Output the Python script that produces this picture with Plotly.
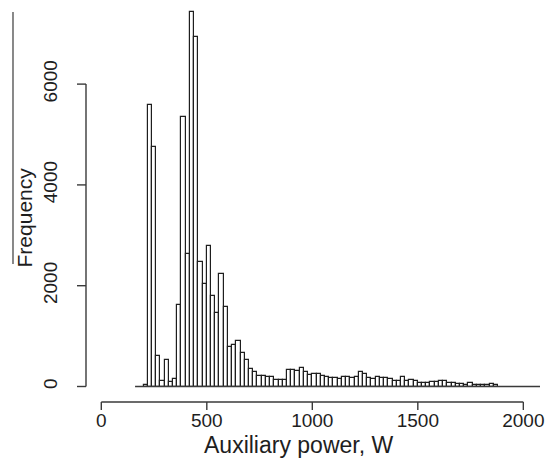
import plotly.graph_objects as go

# Histogram of auxiliary power (20 W bins starting at 200 W)
bin_start = 200
bin_width = 20
counts = [
    30, 5585, 4758, 615, 115, 526, 90, 140, 1617, 5353,
    2629, 7437, 6929, 2464, 2028, 2794, 1802, 1452, 2232, 1571,
    790, 823, 900, 671, 526, 341, 294, 208, 208, 182,
    182, 129, 129, 135, 327, 327, 300, 367, 294, 228,
    248, 248, 208, 195, 162, 162, 149, 188, 188, 162,
    182, 294, 248, 162, 142, 188, 162, 162, 142, 109,
    109, 188, 103, 129, 109, 63, 63, 63, 89, 89,
    109, 109, 63, 63, 43, 43, 30, 63, 23, 23,
    23, 23, 43, 23,
]
x_ticks = [0, 500, 1000, 1500, 2000]
y_ticks = [0, 2000, 4000, 6000]

centers = [bin_start + bin_width * (i + 0.5) for i in range(len(counts))]

FONT = "Liberation Sans, Arial, Helvetica, sans-serif"
INK = "#1e1e1e"
AXIS = "#3a3a3a"

W, H = 546, 469
ML, MR, MT, MB = 86, 6, 0, 67
PW, PH = W - ML - MR, H - MT - MB
XTICK_LEN, YTICK_LEN = 8, 9

fig = go.Figure(
    go.Bar(
        x=centers,
        y=counts,
        width=[bin_width] * len(counts),
        marker=dict(color="white", line=dict(color=INK, width=1.2)),
        hoverinfo="x+y",
    )
)

axis_line = dict(color=AXIS, width=1.4)
shapes = [
    # baseline under the bars
    dict(type="line", xref="x", yref="y", x0=160, x1=2079, y0=0, y1=0, line=axis_line),
    # R-style axis lines spanning only the tick range
    dict(type="line", xref="paper", yref="y", x0=0, x1=0, y0=y_ticks[0], y1=y_ticks[-1],
         line=axis_line),
    dict(type="line", xref="x", yref="paper", x0=x_ticks[0], x1=x_ticks[-1], y0=0, y1=0,
         line=axis_line),
    # thin rule at the left edge
    dict(type="line", xref="paper", yref="paper", x0=-0.1608, x1=-0.1608, y0=0.343, y1=0.970,
         line=dict(color=AXIS, width=1.2)),
]
# tick marks hanging off the axis lines
for t in x_ticks:
    shapes.append(dict(type="line", xref="x", yref="paper", x0=t, x1=t,
                       y0=0, y1=-XTICK_LEN / PH, line=axis_line))
for t in y_ticks:
    shapes.append(dict(type="line", xref="paper", yref="y", x0=0, x1=-YTICK_LEN / PW,
                       y0=t, y1=t, line=axis_line))

annotations = [
    dict(text="Auxiliary power, W", xref="paper", yref="paper", x=0.468, y=-0.108,
         xanchor="center", yanchor="middle", showarrow=False,
         font=dict(family=FONT, size=23, color=INK)),
    dict(text="Frequency", xref="paper", yref="paper", x=-0.1366, y=0.459,
         xanchor="center", yanchor="middle", textangle=-90, showarrow=False,
         font=dict(family=FONT, size=21, color=INK)),
]

fig.update_layout(
    width=W,
    height=H,
    margin=dict(l=ML, r=MR, t=MT, b=MB),
    paper_bgcolor="white",
    plot_bgcolor="white",
    showlegend=False,
    bargap=0,
    font=dict(family=FONT, size=19, color=INK),
    shapes=shapes,
    annotations=annotations,
    xaxis=dict(
        range=[-72.5, 2079],
        tickvals=x_ticks,
        ticks="outside",
        ticklen=1,
        tickcolor="rgba(0,0,0,0)",
        showline=False,
        showgrid=False,
        zeroline=False,
        tickfont=dict(family=FONT, size=19, color=INK),
    ),
    yaxis=dict(
        range=[-307.5, 7669],
        tickvals=y_ticks,
        ticks="outside",
        ticklen=20,
        tickcolor="rgba(0,0,0,0)",
        tickangle=-90,
        showline=False,
        showgrid=False,
        zeroline=False,
        tickfont=dict(family=FONT, size=19, color=INK),
    ),
)

fig.write_html("out.html")
